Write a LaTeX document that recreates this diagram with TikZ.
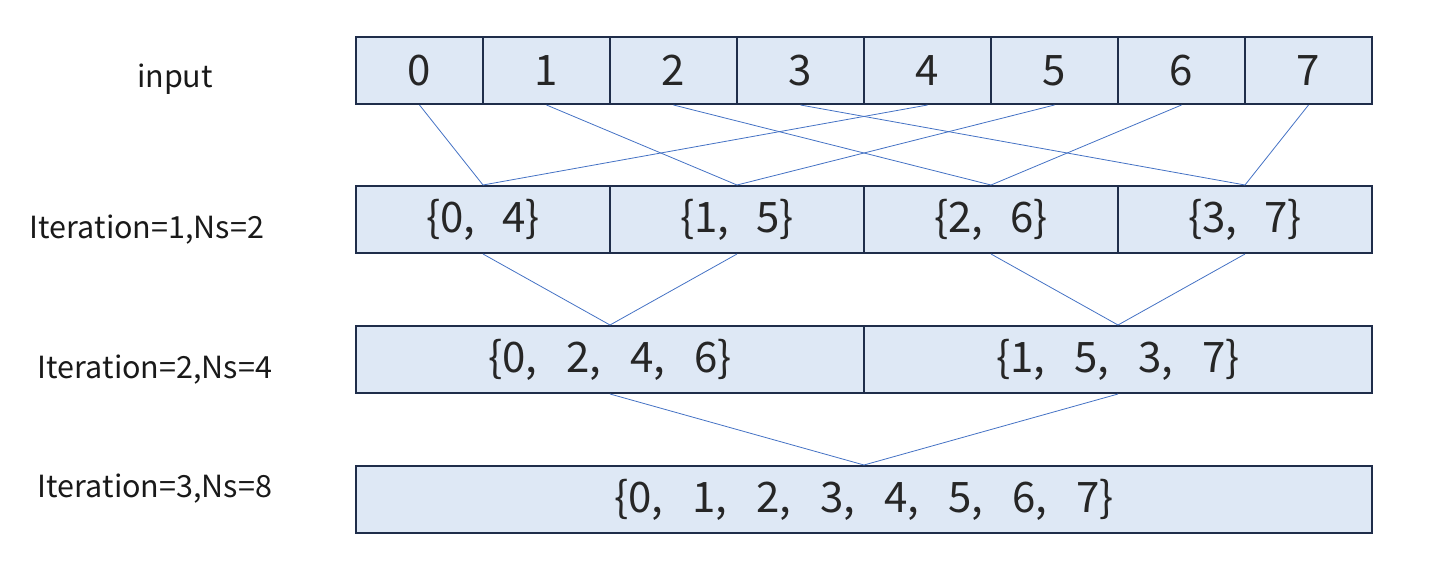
\documentclass[tikz,border=0pt]{standalone}
\usepackage{fontspec}
\setmainfont{Noto Sans CJK SC}
\definecolor{cellfill}{HTML}{DEE8F5}
\definecolor{celledge}{HTML}{1F2D4A}
\definecolor{linkblue}{HTML}{4472C4}
\newcommand{\gapA}{,\hspace{27pt}}
\newcommand{\gapB}{,\hspace{29pt}}
\newcommand{\gapC}{,\hspace{29pt}}
\tikzset{
  cell/.style={draw=celledge, fill=cellfill, line width=2pt, rectangle, inner sep=0pt,
    minimum height=67pt, font=\fontsize{42}{50}\selectfont, text=black!85},
  lbl/.style={font=\fontsize{30.5}{36}\selectfont, text=black!90, inner sep=0pt},
  link/.style={draw=linkblue, line width=0.8pt}
}
\begin{document}
\begin{tikzpicture}[x=1pt,y=-1pt]
\useasboundingbox (0,0) rectangle (1433,571);
% input row
\foreach \i in {0,...,7}{
  \node[cell, minimum width=127pt] (in\i) at ({356+127*(\i+0.5)},70.5) {\i};
}
% iteration 1
\node[cell, minimum width=254pt] (a0) at (483,219.5) {\{0\gapA 4\}};
\node[cell, minimum width=254pt] (a1) at (737,219.5) {\{1\gapA 5\}};
\node[cell, minimum width=254pt] (a2) at (991,219.5) {\{2\gapA 6\}};
\node[cell, minimum width=254pt] (a3) at (1245,219.5) {\{3\gapA 7\}};
% iteration 2
\node[cell, minimum width=508pt] (b0) at (610,359.5) {\{0\gapB 2\gapB 4\gapB 6\}};
\node[cell, minimum width=508pt] (b1) at (1118,359.5) {\{1\gapB 5\gapB 3\gapB 7\}};
% iteration 3
\node[cell, minimum width=1016pt] (c0) at (864,499.5) {\{0\gapC 1\gapC 2\gapC 3\gapC 4\gapC 5\gapC 6\gapC 7\}};
% labels
\node[lbl] (l0) at (175,79) {input};
\node[lbl] (l1) at (147,230) {Iteration=1,Ns=2};
\node[lbl] (l2) at (155,370) {Iteration=2,Ns=4};
\node[lbl] (l3) at (155,489) {Iteration=3,Ns=8};
% links
\draw[link] (in0.south) -- (a0.north);
\draw[link] (in4.south) -- (a0.north);
\draw[link] (in1.south) -- (a1.north);
\draw[link] (in5.south) -- (a1.north);
\draw[link] (in2.south) -- (a2.north);
\draw[link] (in6.south) -- (a2.north);
\draw[link] (in3.south) -- (a3.north);
\draw[link] (in7.south) -- (a3.north);
\draw[link] (a0.south) -- (b0.north);
\draw[link] (a1.south) -- (b0.north);
\draw[link] (a2.south) -- (b1.north);
\draw[link] (a3.south) -- (b1.north);
\draw[link] (b0.south) -- (c0.north);
\draw[link] (b1.south) -- (c0.north);
\end{tikzpicture}
\end{document}
